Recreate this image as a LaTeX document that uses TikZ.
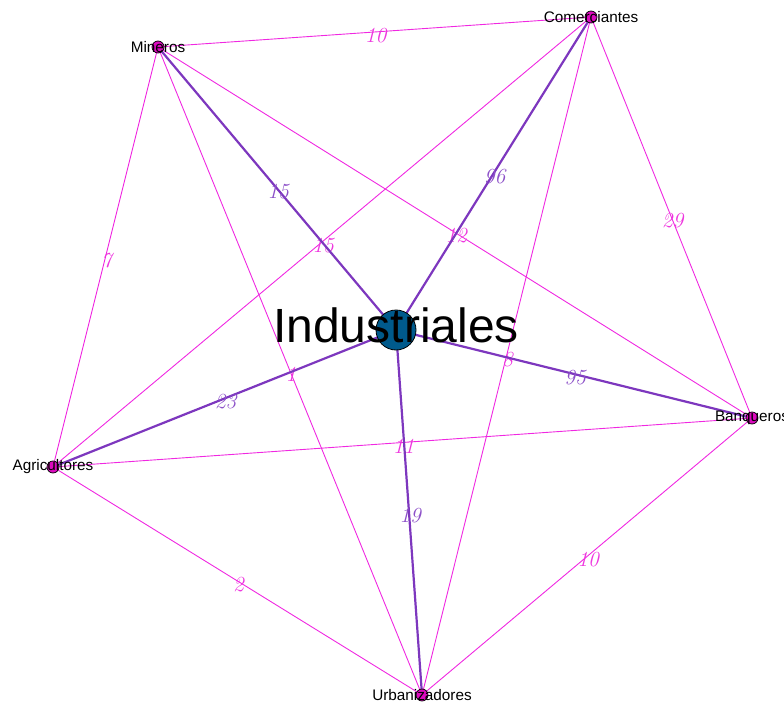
\documentclass[tikz,border=0pt]{standalone}
\usepackage{fontspec}
\newfontfamily\namefont{Liberation Sans}
\definecolor{weakline}{RGB}{240,40,225}
\definecolor{weaklab}{RGB}{238,55,222}
\definecolor{strongline}{RGB}{125,55,190}
\definecolor{stronglab}{RGB}{140,80,200}
\definecolor{actor}{RGB}{220,10,190}
\definecolor{hub}{RGB}{0,90,140}
\tikzset{
  weak/.style={draw=weakline, line width=0.9pt},
  strong/.style={draw=strongline, line width=2.2pt},
  wlab/.style={midway, xshift=1pt, yshift=-3.5pt, inner sep=0pt, text=weaklab, font=\fontsize{21.5}{21.5}\selectfont\itshape},
  slab/.style={midway, xshift=1pt, yshift=-3.5pt, inner sep=0pt, text=stronglab, font=\fontsize{21.5}{21.5}\selectfont\itshape},
  dot/.style={circle, draw=black, line width=0.7pt, fill=actor, minimum size=12pt, inner sep=0pt},
  bigdot/.style={circle, draw=black, line width=0.8pt, fill=hub, minimum size=40pt, inner sep=0pt},
  actorname/.style={inner sep=0pt, font=\namefont\fontsize{15.3}{16}\selectfont},
  hubname/.style={inner sep=0pt, font=\namefont\fontsize{48}{48}\selectfont}
}
\begin{document}
\begin{tikzpicture}[x=1pt, y=-1pt]
\useasboundingbox (0,0) rectangle (784,703);
% actor positions
\coordinate (pind) at (396,330);
\coordinate (pmin) at (158,47);
\coordinate (pcom) at (591,17);
\coordinate (pban) at (752,418);
\coordinate (pagr) at (53,467);
\coordinate (purb) at (422,695);
% thin ties
\draw[weak] (pmin) -- node[wlab]{10} (pcom);
\draw[weak] (pmin) -- node[wlab]{7} (pagr);
\draw[weak] (pmin) -- node[wlab]{12} (pban);
\draw[weak] (pmin) -- node[wlab]{1} (purb);
\draw[weak] (pcom) -- node[wlab]{15} (pagr);
\draw[weak] (pcom) -- node[wlab]{29} (pban);
\draw[weak] (pcom) -- node[wlab]{8} (purb);
\draw[weak] (pagr) -- node[wlab]{11} (pban);
\draw[weak] (pagr) -- node[wlab]{2} (purb);
\draw[weak] (pban) -- node[wlab]{10} (purb);
% ties of the industrial hub
\draw[strong] (pind) -- node[slab]{15} (pmin);
\draw[strong] (pind) -- node[slab]{96} (pcom);
\draw[strong] (pind) -- node[slab]{95} (pban);
\draw[strong] (pind) -- node[slab]{23} (pagr);
\draw[strong] (pind) -- node[slab]{19} (purb);
% actors
\node[bigdot] (ind) at (pind) {};
\node[dot] (min) at (pmin) {};
\node[dot] (com) at (pcom) {};
\node[dot] (ban) at (pban) {};
\node[dot] (agr) at (pagr) {};
\node[dot] (urb) at (purb) {};
% names
\node[hubname] (tind) at ([yshift=5pt]pind) {Industriales};
\node[actorname] (tmin) at (pmin) {Mineros};
\node[actorname] (tcom) at (pcom) {Comerciantes};
\node[actorname] (tban) at (pban) {Banqueros};
\node[actorname] (tagr) at (pagr) {Agricultores};
\node[actorname] (turb) at (purb) {Urbanizadores};
\end{tikzpicture}
\end{document}
